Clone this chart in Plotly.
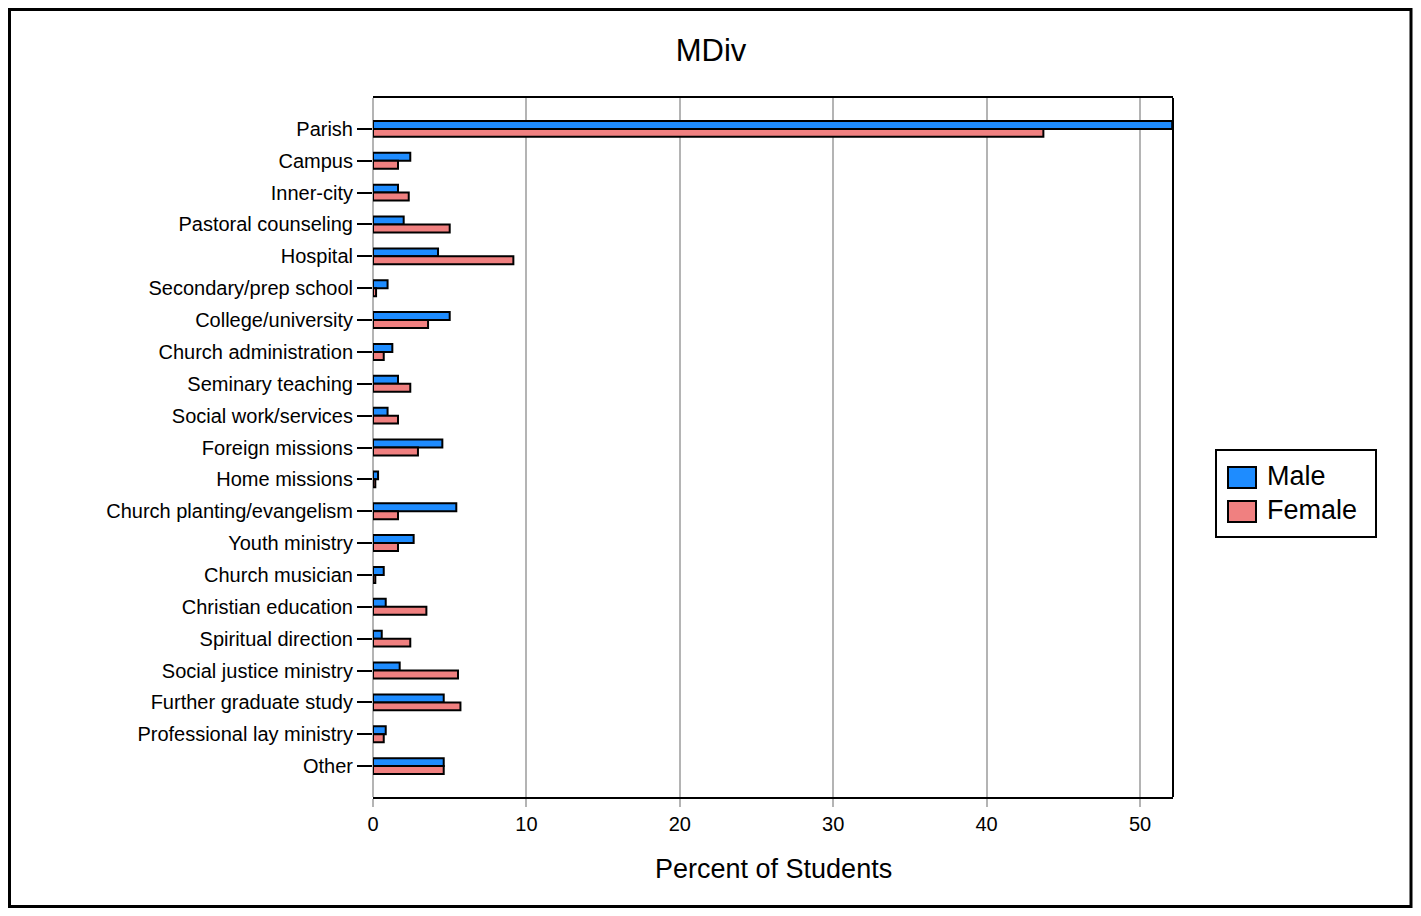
import plotly.graph_objects as go

categories = ["Parish", "Campus", "Inner-city", "Pastoral counseling", "Hospital",
              "Secondary/prep school", "College/university", "Church administration",
              "Seminary teaching", "Social work/services", "Foreign missions",
              "Home missions", "Church planting/evangelism", "Youth ministry",
              "Church musician", "Christian education", "Spiritual direction",
              "Social justice ministry", "Further graduate study",
              "Professional lay ministry", "Other"]
male = [52.1, 2.43, 1.63, 2.0, 4.24, 0.95, 5.0, 1.26, 1.63, 0.95, 4.52,
        0.33, 5.43, 2.65, 0.70, 0.83, 0.57, 1.74, 4.61, 0.83, 4.61]
female = [43.7, 1.63, 2.33, 5.0, 9.15, 0.2, 3.59, 0.70, 2.43, 1.63, 2.93,
          0.15, 1.63, 1.63, 0.15, 3.48, 2.43, 5.54, 5.7, 0.70, 4.61]
x_ticks = [0, 10, 20, 30, 40, 50]
series_names = ["Male", "Female"]
series_colors = ["#1e8cff", "#f08080"]

FONT = "Liberation Sans, Arial, sans-serif"

fig = go.Figure()
for name, vals, col in zip(series_names, [male, female], series_colors):
    fig.add_trace(go.Bar(y=categories, x=vals, orientation="h", name=name,
                         marker=dict(color=col, line=dict(color="black", width=2)),
                         showlegend=False))

# page offset (body margin) of 8px on each side
OFF = 8
FW, FH = 1421 - 2 * OFF, 916 - 2 * OFF
PX0, PX1, PY0, PY1 = 373, 1173, 98, 797   # plot area in screen coords
L, T = PX0 - OFF, PY0 - OFF
R = FW - (PX1 - OFF)
B = FH - (PY1 - OFF)
W, H = PX1 - PX0, PY1 - PY0


def px(sx):
    return (sx - PX0) / W


def py(sy):
    return (PY1 - sy) / H


fig.update_layout(
    width=FW, height=FH,
    margin=dict(l=L, r=R, t=T, b=B, pad=0),
    paper_bgcolor="white", plot_bgcolor="white",
    font=dict(family=FONT, color="black", size=20),
    barmode="group", bargap=0.5, bargroupgap=0.0,
    title=dict(text="MDiv", x=(711 - OFF) / FW, xanchor="center",
               y=1 - (50 - OFF) / FH, yanchor="middle",
               font=dict(size=31, family=FONT)),
    xaxis=dict(range=[0, 52.15], tickvals=x_ticks, showgrid=True, gridcolor="#b4b4b4",
               gridwidth=2, zeroline=True, zerolinecolor="#b4b4b4", zerolinewidth=2,
               showline=True, linecolor="black", linewidth=2, mirror=True,
               ticks="outside", ticklen=8, tickcolor="#b4b4b4", tickwidth=2,
               tickfont=dict(size=20)),
    yaxis=dict(autorange=False, range=[20.97, -0.97], type="category",
               showgrid=False, zeroline=False, showline=False,
               ticks="outside", ticklen=15, tickcolor="black", tickwidth=2,
               tickfont=dict(size=20)),
    showlegend=False,
)

# right frame line of plot area
fig.add_shape(type="line", xref="paper", yref="paper", x0=1, x1=1, y0=0, y1=1,
              line=dict(color="black", width=2))
# outer figure frame
fig.add_shape(type="rect", xref="paper", yref="paper",
              x0=px(9.5), x1=px(1411), y0=py(906.5), y1=py(9.5),
              line=dict(color="black", width=3), layer="above")

# legend box
fig.add_shape(type="rect", xref="paper", yref="paper",
              x0=px(1216), x1=px(1376), y0=py(537), y1=py(450),
              line=dict(color="black", width=2), fillcolor="white")
for i, (name, col) in enumerate(zip(series_names, series_colors)):
    top = 467 + i * 34
    fig.add_shape(type="rect", xref="paper", yref="paper",
                  x0=px(1228), x1=px(1256), y0=py(top + 21), y1=py(top),
                  line=dict(color="black", width=2), fillcolor=col)
    fig.add_annotation(text=name, xref="paper", yref="paper",
                       x=px(1265), y=py(top + 9), xanchor="left", yanchor="middle",
                       showarrow=False, font=dict(size=27, family=FONT))

fig.add_annotation(text="Percent of Students", xref="paper", yref="paper",
                   x=0.5, y=py(869), xanchor="center", yanchor="middle",
                   showarrow=False, font=dict(size=27, family=FONT))

fig.write_html("out.html")
